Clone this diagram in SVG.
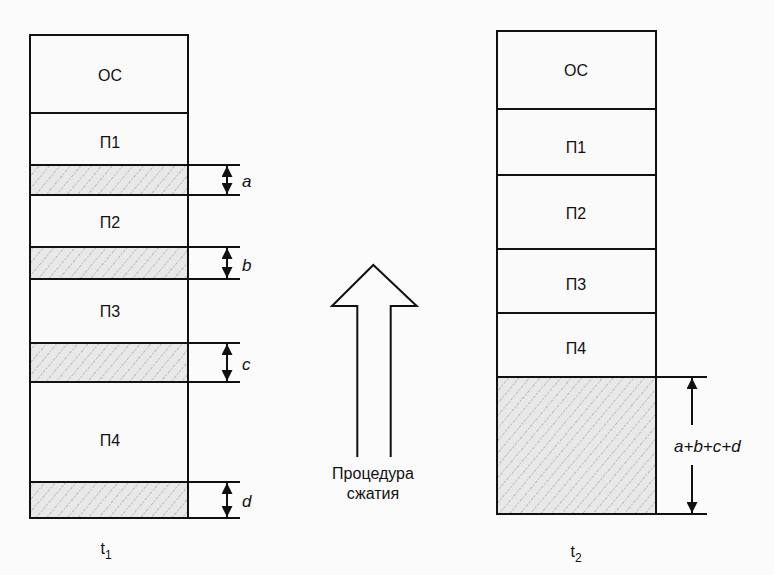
<svg xmlns="http://www.w3.org/2000/svg" width="774" height="575" viewBox="0 0 774 575">
<defs>
<pattern id="hatch" patternUnits="userSpaceOnUse" width="8" height="8" patternTransform="rotate(40)">
<rect width="8" height="8" fill="#e8e8e8"/>
<line x1="0" y1="0" x2="0" y2="8" stroke="#8a8a8a" stroke-width="1" stroke-dasharray="2 1.5"/>
</pattern>
<marker id="ah" viewBox="0 0 10 10" refX="10" refY="5" markerWidth="11" markerHeight="11" markerUnits="userSpaceOnUse" orient="auto">
<path d="M0,0 L10,5 L0,10 Z" fill="#111"/>
</marker>
</defs>
<style>
.box{fill:#fafafa;stroke:#111;stroke-width:2}
.hat{fill:url(#hatch);stroke:#111;stroke-width:2}
.lbl{font-family:"Liberation Sans",Arial,sans-serif;font-size:16px;fill:#111;text-anchor:middle}
.it{font-family:"Liberation Sans",Arial,sans-serif;font-size:17px;font-style:italic;fill:#111}
.dim{stroke:#111;stroke-width:2;fill:none}
.dl{stroke:#111;stroke-width:2}
</style>
<rect width="774" height="575" fill="#fbfbfb"/>
<g id="left">
<rect class="box" x="30" y="35" width="158" height="78"/>
<rect class="box" x="30" y="113" width="158" height="52"/>
<rect class="hat" x="30" y="165" width="158" height="30"/>
<rect class="box" x="30" y="195" width="158" height="52"/>
<rect class="hat" x="30" y="247" width="158" height="32"/>
<rect class="box" x="30" y="279" width="158" height="64"/>
<rect class="hat" x="30" y="343" width="158" height="39"/>
<rect class="box" x="30" y="382" width="158" height="100"/>
<rect class="hat" x="30" y="482" width="158" height="36"/>
<text class="lbl" x="110" y="81">ОС</text>
<text class="lbl" x="110" y="148">П1</text>
<text class="lbl" x="110" y="228">П2</text>
<text class="lbl" x="110" y="317">П3</text>
<text class="lbl" x="110" y="446">П4</text>
<text class="lbl" x="106" y="554" font-size="17">t<tspan font-size="12" dy="5">1</tspan></text>
</g>
<g id="right">
<rect class="box" x="497" y="31" width="159" height="78"/>
<rect class="box" x="497" y="109" width="159" height="66"/>
<rect class="box" x="497" y="175" width="159" height="74"/>
<rect class="box" x="497" y="249" width="159" height="64"/>
<rect class="box" x="497" y="313" width="159" height="64"/>
<rect class="hat" x="497" y="377" width="159" height="137"/>
<text class="lbl" x="576" y="76">ОС</text>
<text class="lbl" x="576" y="153">П1</text>
<text class="lbl" x="576" y="219">П2</text>
<text class="lbl" x="576" y="290">П3</text>
<text class="lbl" x="576" y="354">П4</text>
<text class="lbl" x="576" y="557" font-size="17">t<tspan font-size="12" dy="5">2</tspan></text>
</g>
<g id="connectors">
<line class="dl" x1="188" y1="165" x2="240" y2="165"/>
<line class="dl" x1="188" y1="195" x2="240" y2="195"/>
<line class="dl" x1="188" y1="247" x2="240" y2="247"/>
<line class="dl" x1="188" y1="279" x2="240" y2="279"/>
<line class="dl" x1="188" y1="343" x2="240" y2="343"/>
<line class="dl" x1="188" y1="382" x2="240" y2="382"/>
<line class="dl" x1="188" y1="482" x2="240" y2="482"/>
<line class="dl" x1="188" y1="518" x2="240" y2="518"/>
<line class="dim" x1="227" y1="180" x2="227" y2="166" marker-end="url(#ah)"/>
<line class="dim" x1="227" y1="180" x2="227" y2="194" marker-end="url(#ah)"/>
<line class="dim" x1="227" y1="263" x2="227" y2="248" marker-end="url(#ah)"/>
<line class="dim" x1="227" y1="263" x2="227" y2="278" marker-end="url(#ah)"/>
<line class="dim" x1="227" y1="362" x2="227" y2="344" marker-end="url(#ah)"/>
<line class="dim" x1="227" y1="362" x2="227" y2="381" marker-end="url(#ah)"/>
<line class="dim" x1="227" y1="500" x2="227" y2="483" marker-end="url(#ah)"/>
<line class="dim" x1="227" y1="500" x2="227" y2="517" marker-end="url(#ah)"/>
<line class="dl" x1="656" y1="377" x2="707" y2="377"/>
<line class="dl" x1="656" y1="514" x2="707" y2="514"/>
<line class="dim" x1="692" y1="425" x2="692" y2="378" marker-end="url(#ah)"/>
<line class="dim" x1="692" y1="465" x2="692" y2="513" marker-end="url(#ah)"/>
<text class="it" x="242" y="187">a</text>
<text class="it" x="242" y="271">b</text>
<text class="it" x="242" y="370">c</text>
<text class="it" x="242" y="507">d</text>
<text class="it" x="674" y="452">a+b+c+d</text>
</g>
<g id="compress">
<path d="M357.3,457 L357.3,306 L332,306 L373.3,265 L416.7,306 L390.7,306 L390.7,457" fill="none" stroke="#111" stroke-width="2" stroke-linejoin="miter"/>
<text class="lbl" x="373" y="479">Процедура</text>
<text class="lbl" x="373" y="499">сжатия</text>
</g>
</svg>
